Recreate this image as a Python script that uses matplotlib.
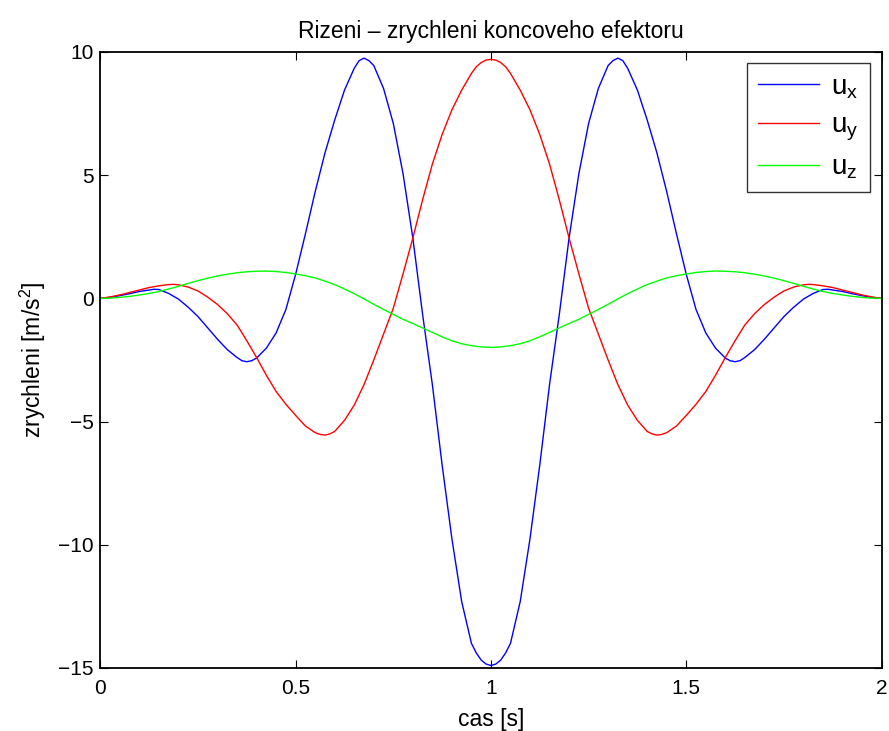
import numpy as np
import matplotlib
matplotlib.use("Agg")
import matplotlib.pyplot as plt

plt.rcParams['font.family'] = ['Liberation Sans', 'DejaVu Sans']
plt.rcParams['mathtext.fontset'] = 'custom'
plt.rcParams['mathtext.rm'] = 'Liberation Sans'
plt.rcParams['mathtext.it'] = 'Liberation Sans'

# ---- data ----
t_x = [0.000, 0.025, 0.050, 0.075, 0.100, 0.125, 0.1375, 0.150, 0.175, 0.200,
       0.225, 0.250, 0.275, 0.300, 0.325, 0.350, 0.3625, 0.375, 0.3875, 0.400,
       0.425, 0.450, 0.475, 0.500, 0.525, 0.550, 0.575, 0.600, 0.625, 0.650,
       0.6625, 0.675, 0.6875, 0.700, 0.725, 0.750, 0.775, 0.800, 0.825, 0.850,
       0.875, 0.900, 0.925, 0.950, 0.9625, 0.975, 0.9875, 1.000,
       1.0125, 1.025, 1.0375, 1.050, 1.075, 1.100, 1.125, 1.150, 1.175, 1.200,
       1.225, 1.250, 1.275, 1.300, 1.3125, 1.325, 1.3375, 1.350, 1.375, 1.400,
       1.425, 1.450, 1.475, 1.500, 1.525, 1.550, 1.575, 1.600, 1.6125, 1.625,
       1.6375, 1.650, 1.675, 1.700, 1.725, 1.750, 1.775, 1.800, 1.825, 1.850,
       1.8625, 1.875, 1.900, 1.925, 1.950, 1.975, 2.000]
u_x = [0.00, 0.04, 0.11, 0.19, 0.28, 0.34, 0.37, 0.36, 0.20, -0.03,
       -0.36, -0.74, -1.20, -1.66, -2.08, -2.40, -2.53, -2.57, -2.53, -2.42,
       -2.02, -1.40, -0.45, 0.98, 2.62, 4.33, 5.90, 7.24, 8.45, 9.34,
       9.65, 9.75, 9.65, 9.45, 8.52, 7.10, 5.05, 2.45, -0.65, -3.50,
       -6.76, -9.75, -12.30, -14.00, -14.39, -14.68, -14.84, -14.90,
       -14.84, -14.68, -14.39, -14.00, -12.30, -9.75, -6.76, -3.50, -0.65, 2.45,
       5.05, 7.10, 8.52, 9.45, 9.65, 9.75, 9.65, 9.34, 8.45, 7.24,
       5.90, 4.33, 2.62, 0.98, -0.45, -1.40, -2.02, -2.42, -2.53, -2.57,
       -2.53, -2.40, -2.08, -1.66, -1.20, -0.74, -0.36, -0.03, 0.20, 0.36,
       0.37, 0.34, 0.28, 0.19, 0.11, 0.04, 0.00]

t_y = [0.000, 0.025, 0.050, 0.075, 0.100, 0.125, 0.150, 0.175, 0.1875, 0.200,
       0.225, 0.250, 0.275, 0.300, 0.325, 0.350, 0.375, 0.400, 0.425, 0.450,
       0.475, 0.500, 0.525, 0.550, 0.5625, 0.575, 0.5875, 0.600, 0.625, 0.650,
       0.675, 0.700, 0.725, 0.750, 0.775, 0.800, 0.825, 0.850, 0.875, 0.900,
       0.925, 0.950, 0.9625, 0.975, 0.9875, 1.000,
       1.0125, 1.025, 1.0375, 1.050, 1.075, 1.100, 1.125, 1.150, 1.175, 1.200,
       1.225, 1.250, 1.275, 1.300, 1.325, 1.350, 1.375, 1.400, 1.4125, 1.425,
       1.4375, 1.450, 1.475, 1.500, 1.525, 1.550, 1.575, 1.600, 1.625, 1.650,
       1.675, 1.700, 1.725, 1.750, 1.775, 1.800, 1.8125, 1.825, 1.850, 1.875,
       1.900, 1.925, 1.950, 1.975, 2.000]
u_y = [0.00, 0.06, 0.14, 0.24, 0.34, 0.44, 0.51, 0.56, 0.57, 0.55,
       0.46, 0.30, 0.05, -0.25, -0.62, -1.08, -1.72, -2.40, -3.12, -3.78,
       -4.30, -4.75, -5.18, -5.45, -5.52, -5.55, -5.50, -5.40, -4.95, -4.33,
       -3.50, -2.50, -1.45, -0.40, 1.00, 2.45, 4.00, 5.45, 6.65, 7.65,
       8.45, 9.13, 9.40, 9.57, 9.67, 9.70,
       9.67, 9.57, 9.40, 9.13, 8.45, 7.65, 6.65, 5.45, 4.00, 2.45,
       1.00, -0.40, -1.45, -2.50, -3.50, -4.33, -4.95, -5.40, -5.50, -5.55,
       -5.52, -5.45, -5.18, -4.75, -4.30, -3.78, -3.12, -2.40, -1.72, -1.08,
       -0.62, -0.25, 0.05, 0.30, 0.46, 0.55, 0.57, 0.56, 0.51, 0.44,
       0.34, 0.24, 0.14, 0.06, 0.00]

t_z = [0.000, 0.025, 0.050, 0.075, 0.100, 0.125, 0.150, 0.175, 0.200, 0.225,
       0.250, 0.275, 0.300, 0.325, 0.350, 0.375, 0.400, 0.425, 0.450, 0.475,
       0.500, 0.525, 0.550, 0.575, 0.600, 0.625, 0.650, 0.675, 0.700, 0.725,
       0.750, 0.775, 0.800, 0.825, 0.850, 0.875, 0.900, 0.925, 0.950, 0.975,
       1.000,
       1.025, 1.050, 1.075, 1.100, 1.125, 1.150, 1.175, 1.200, 1.225, 1.250,
       1.275, 1.300, 1.325, 1.350, 1.375, 1.400, 1.425, 1.450, 1.475, 1.500,
       1.525, 1.550, 1.575, 1.600, 1.625, 1.650, 1.675, 1.700, 1.725, 1.750,
       1.775, 1.800, 1.825, 1.850, 1.875, 1.900, 1.925, 1.950, 1.975, 2.000]
u_z = [0.00, 0.01, 0.04, 0.08, 0.14, 0.20, 0.28, 0.38, 0.49, 0.61,
       0.72, 0.82, 0.91, 0.98, 1.04, 1.08, 1.10, 1.11, 1.09, 1.05,
       0.99, 0.92, 0.83, 0.70, 0.56, 0.38, 0.19, -0.02, -0.24, -0.45,
       -0.65, -0.85, -1.02, -1.20, -1.38, -1.56, -1.72, -1.84, -1.92, -1.97,
       -1.99,
       -1.97, -1.92, -1.84, -1.72, -1.56, -1.38, -1.20, -1.02, -0.85, -0.65,
       -0.45, -0.24, -0.02, 0.19, 0.38, 0.56, 0.70, 0.83, 0.92, 0.99,
       1.05, 1.09, 1.11, 1.10, 1.08, 1.04, 0.98, 0.91, 0.82, 0.72,
       0.61, 0.49, 0.38, 0.28, 0.20, 0.14, 0.08, 0.04, 0.01, 0.00]

series_labels = [r'$\mathregular{u_x}$', r'$\mathregular{u_y}$', r'$\mathregular{u_z}$']
x_ticks = [0, 0.5, 1, 1.5, 2]
x_ticklabels = ['0', '0.5', '1', '1.5', '2']
y_ticks = [-15, -10, -5, 0, 5, 10]
y_ticklabels = ['\u221215', '\u221210', '\u22125', '0', '5', '10']

fig = plt.figure(figsize=(8.89, 7.31), dpi=100)
ax = fig.add_axes([0.1129, 0.0862, 0.8787, 0.8427])

ax.plot(t_x, u_x, color=(0, 0, 1), lw=1.0, label=series_labels[0])
ax.plot(t_y, u_y, color=(1, 0, 0), lw=1.0, label=series_labels[1])
ax.plot(t_z, u_z, color=(0, 1, 0), lw=1.0, label=series_labels[2])

ax.set_xlim(0, 2)
ax.set_ylim(-15, 10)
ax.set_xticks(x_ticks)
ax.set_xticklabels(x_ticklabels)
ax.set_yticks(y_ticks)
ax.set_yticklabels(y_ticklabels)
ax.tick_params(direction='in', length=6, width=0.8, top=True, right=True,
               labelsize=15, pad=5)
ax.tick_params(axis='x', pad=8)
for s in ax.spines.values():
    s.set_linewidth(1.3)

ax.set_title('Rizeni \u2013 zrychleni koncoveho efektoru', fontsize=16.5, pad=10)
ax.set_xlabel('cas [s]', fontsize=16.5, labelpad=7)
ax.set_ylabel(r'zrychleni [m/s$^\mathregular{2}$]', fontsize=16.5, labelpad=7)

leg = ax.legend(loc='upper right', bbox_to_anchor=(0.985, 0.982),
                borderaxespad=0, fontsize=20, frameon=True, fancybox=False,
                handlelength=2.2, handletextpad=0.45, labelspacing=0.42,
                borderpad=0.4)
leg.get_frame().set_edgecolor('black')
leg.get_frame().set_linewidth(1.0)

fig.savefig('out.png', dpi=100)
